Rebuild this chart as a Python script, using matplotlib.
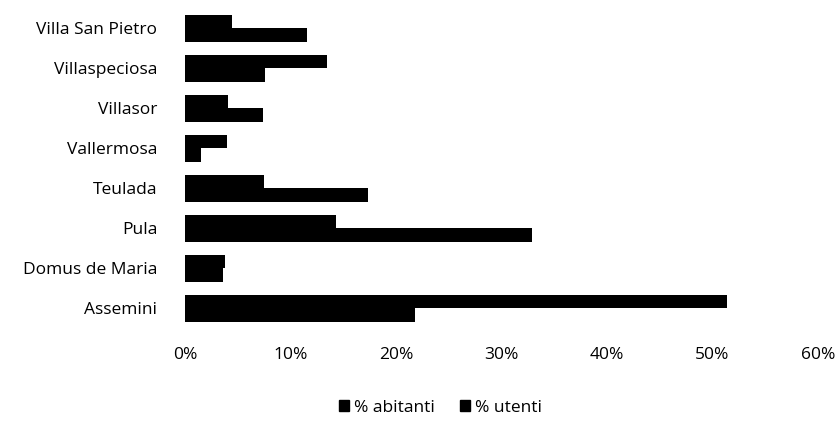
import numpy as np
import matplotlib.pyplot as plt
from matplotlib.patches import Patch

# categories listed bottom to top, as drawn
comuni = ["Assemini", "Domus de Maria", "Pula", "Teulada",
          "Vallermosa", "Villasor", "Villaspeciosa", "Villa San Pietro"]
abitanti = [51.4, 3.8, 14.3, 7.5, 4.0, 4.1, 13.5, 4.5]
utenti = [21.8, 3.6, 32.9, 17.3, 1.5, 7.4, 7.6, 11.6]
xticks = [0, 10, 20, 30, 40, 50, 60]

plt.rcParams['font.family'] = ['Open Sans', 'DejaVu Sans']

fig = plt.figure(figsize=(8.39, 4.22), dpi=100)
ax = fig.add_axes([0.2205, 0.2216, 0.7545, 0.7583])

y = np.arange(len(comuni))
h = 0.34
ax.barh(y + h / 2, abitanti, height=h, color='black', label='% abitanti')
ax.barh(y - h / 2, utenti, height=h, color='black', label='% utenti')

ax.set_xlim(0, 60)
ax.set_ylim(-0.5, 7.5)
ax.set_xticks(xticks)
ax.set_xticklabels([f"{t}%" for t in xticks], fontsize=12.5)
ax.set_yticks(y)
ax.set_yticklabels(comuni, fontsize=12.5)
ax.tick_params(axis='y', length=0, pad=20)
ax.tick_params(axis='x', length=0, pad=13)
for s in ax.spines.values():
    s.set_visible(False)

handles = [Patch(color='black', label='% abitanti'),
           Patch(color='black', label='% utenti')]
fig.legend(handles=handles, loc='center', bbox_to_anchor=(0.525, 0.033),
           ncol=2, frameon=False, fontsize=12.5, handlelength=0.6,
           handleheight=0.6, handletextpad=0.3, columnspacing=1.4)

fig.savefig("out.png", dpi=100)
